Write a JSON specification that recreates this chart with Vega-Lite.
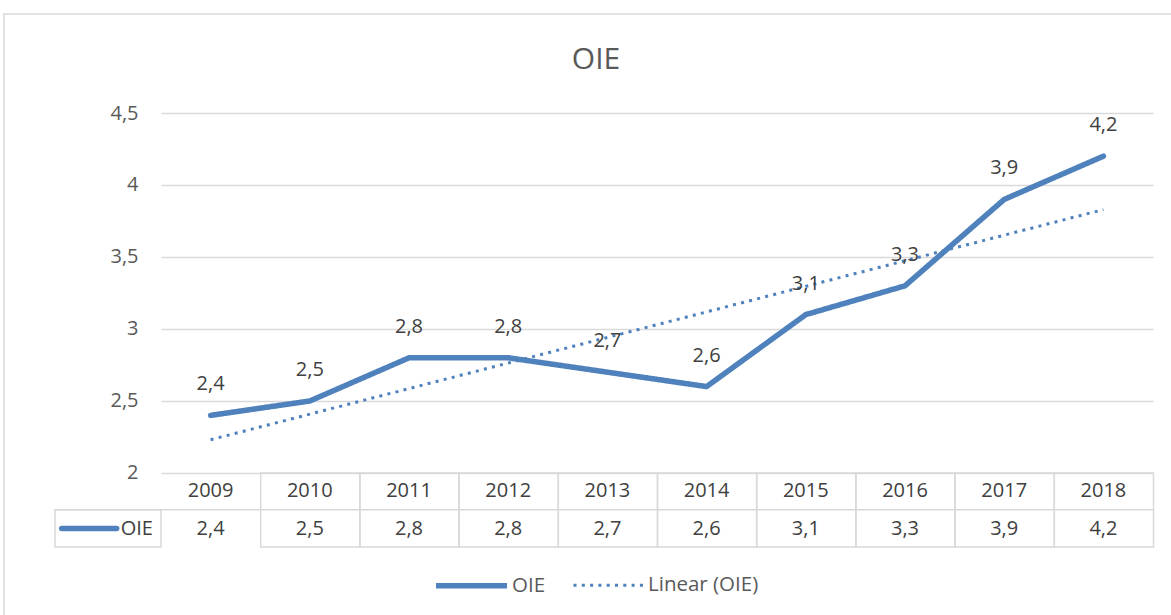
{
  "$schema": "https://vega.github.io/schema/vega-lite/v6.json",
  "width": 992,
  "height": 434,
  "autosize": {"type": "none"},
  "padding": {"left": 161, "top": 113, "right": 18, "bottom": 68},
  "background": "white",
  "config": {
    "view": {"stroke": null},
    "font": "Open Sans",
    "locale": {"number": {"decimal": ",", "thousands": ".", "grouping": [3], "currency": ["", " €"]}}
  },
  "title": {
    "text": "OIE",
    "fontSize": 30,
    "fontWeight": "normal",
    "font": "Open Sans",
    "color": "#595959",
    "anchor": "middle",
    "frame": "group",
    "dx": -61,
    "offset": -92,
    "baseline": "bottom"
  },
  "data": {
    "values": [
      {"year": 2009, "value": 2.4},
      {"year": 2010, "value": 2.5},
      {"year": 2011, "value": 2.8},
      {"year": 2012, "value": 2.8},
      {"year": 2013, "value": 2.7},
      {"year": 2014, "value": 2.6},
      {"year": 2015, "value": 3.1},
      {"year": 2016, "value": 3.3},
      {"year": 2017, "value": 3.9},
      {"year": 2018, "value": 4.2}
    ]
  },
  "layer": [
    {
      "mark": {"type": "line", "strokeCap": "round", "strokeJoin": "round"},
      "encoding": {
        "x": {"field": "year", "type": "quantitative", "scale": {"domain": [2008.5, 2018.5], "nice": false, "zero": false}, "axis": null},
        "y": {
          "field": "value", "type": "quantitative",
          "scale": {"domain": [1.486, 4.5], "nice": false, "zero": false},
          "title": null,
          "axis": {
            "values": [2, 2.5, 3, 3.5, 4, 4.5],
            "format": "~g",
            "grid": true,
            "gridColor": "#d9d9d9",
            "gridWidth": 1.5,
            "domain": false,
            "ticks": false,
            "labelPadding": 23,
            "labelFontSize": 20,
            "labelColor": "#595959",
            "labelFont": "Open Sans",
            "title": null
          }
        },
        "color": {
          "datum": "OIE", "type": "nominal",
          "scale": {"domain": ["OIE", "Linear (OIE)"], "range": ["#4F81BD", "#4F81BD"]},
          "legend": {
            "orient": "none",
            "legendX": 272,
            "legendY": 434,
            "direction": "horizontal",
            "title": null,
            "symbolType": "stroke",
            "symbolSize": 5041,
            "labelFontSize": 20.5,
            "labelFont": "Open Sans",
            "labelColor": "#595959",
            "labelOffset": 2,
            "columnPadding": 21,
            "padding": 0
          }
        },
        "strokeDash": {
          "datum": "OIE", "type": "nominal",
          "scale": {"domain": ["OIE", "Linear (OIE)"], "range": [[1, 0], [3, 5.3]]}
        },
        "strokeWidth": {
          "datum": "OIE", "type": "nominal",
          "scale": {"type": "point", "domain": ["OIE", "Linear (OIE)"], "range": [5.5, 3], "padding": 0}
        }
      }
    },
    {
      "transform": [{"regression": "value", "on": "year"}],
      "mark": {"type": "line"},
      "encoding": {
        "x": {"field": "year", "type": "quantitative"},
        "y": {"field": "value", "type": "quantitative"},
        "color": {"datum": "Linear (OIE)", "type": "nominal"},
        "strokeDash": {"datum": "Linear (OIE)", "type": "nominal"},
        "strokeWidth": {"datum": "Linear (OIE)", "type": "nominal"}
      }
    },
    {
      "mark": {"type": "text", "dy": -31, "fontSize": 20, "font": "Open Sans", "color": "#404040", "baseline": "middle"},
      "encoding": {
        "x": {"field": "year", "type": "quantitative"},
        "y": {"field": "value", "type": "quantitative"},
        "text": {"field": "value", "type": "quantitative", "format": ".1f"}
      }
    },
    {
      "mark": {"type": "rect", "fill": null, "stroke": "#d9d9d9", "strokeWidth": 1.5},
      "encoding": {
        "x": {"field": "year", "type": "quantitative", "bin": {"step": 1, "anchor": 2008.5, "nice": false}},
        "y": {"datum": 2},
        "y2": {"datum": 1.486}
      }
    },
    {
      "data": {"values": [{}]},
      "mark": {"type": "rule", "stroke": "#d9d9d9", "strokeWidth": 1.5},
      "encoding": {
        "x": {"datum": 2007.4315},
        "x2": {"datum": 2018.5},
        "y": {"datum": 1.745}
      }
    },
    {
      "data": {"values": [{}]},
      "mark": {"type": "rect", "fill": null, "stroke": "#d9d9d9", "strokeWidth": 1.5},
      "encoding": {
        "x": {"datum": 2007.4315},
        "x2": {"datum": 2008.5},
        "y": {"datum": 1.745},
        "y2": {"datum": 1.486}
      }
    },
    {
      "data": {"values": [{}]},
      "mark": {"type": "rect", "fill": null, "stroke": "#d9d9d9", "strokeWidth": 1.5},
      "encoding": {
        "x": {"datum": 2006.917},
        "x2": {"datum": 2019.5},
        "y": {"datum": 5.1875},
        "y2": {"datum": 0.5}
      }
    },
    {
      "mark": {"type": "text", "fontSize": 20, "font": "Open Sans", "color": "#404040", "baseline": "middle", "align": "center"},
      "encoding": {
        "x": {"field": "year", "type": "quantitative"},
        "y": {"datum": 1.872},
        "text": {"field": "year", "type": "quantitative", "format": "d"}
      }
    },
    {
      "mark": {"type": "text", "fontSize": 20, "font": "Open Sans", "color": "#404040", "baseline": "middle", "align": "center"},
      "encoding": {
        "x": {"field": "year", "type": "quantitative"},
        "y": {"datum": 1.614},
        "text": {"field": "value", "type": "quantitative", "format": ".1f"}
      }
    },
    {
      "data": {"values": [{}]},
      "mark": {"type": "rule", "stroke": "#4F81BD", "strokeWidth": 5.5, "strokeCap": "round"},
      "encoding": {
        "x": {"datum": 2007.499},
        "x2": {"datum": 2008.053},
        "y": {"datum": 1.615}
      }
    },
    {
      "data": {"values": [{}]},
      "mark": {"type": "text", "fontSize": 20, "font": "Open Sans", "color": "#404040", "baseline": "middle", "align": "left"},
      "encoding": {
        "x": {"datum": 2008.094},
        "y": {"datum": 1.614},
        "text": {"value": "OIE"}
      }
    }
  ]
}
